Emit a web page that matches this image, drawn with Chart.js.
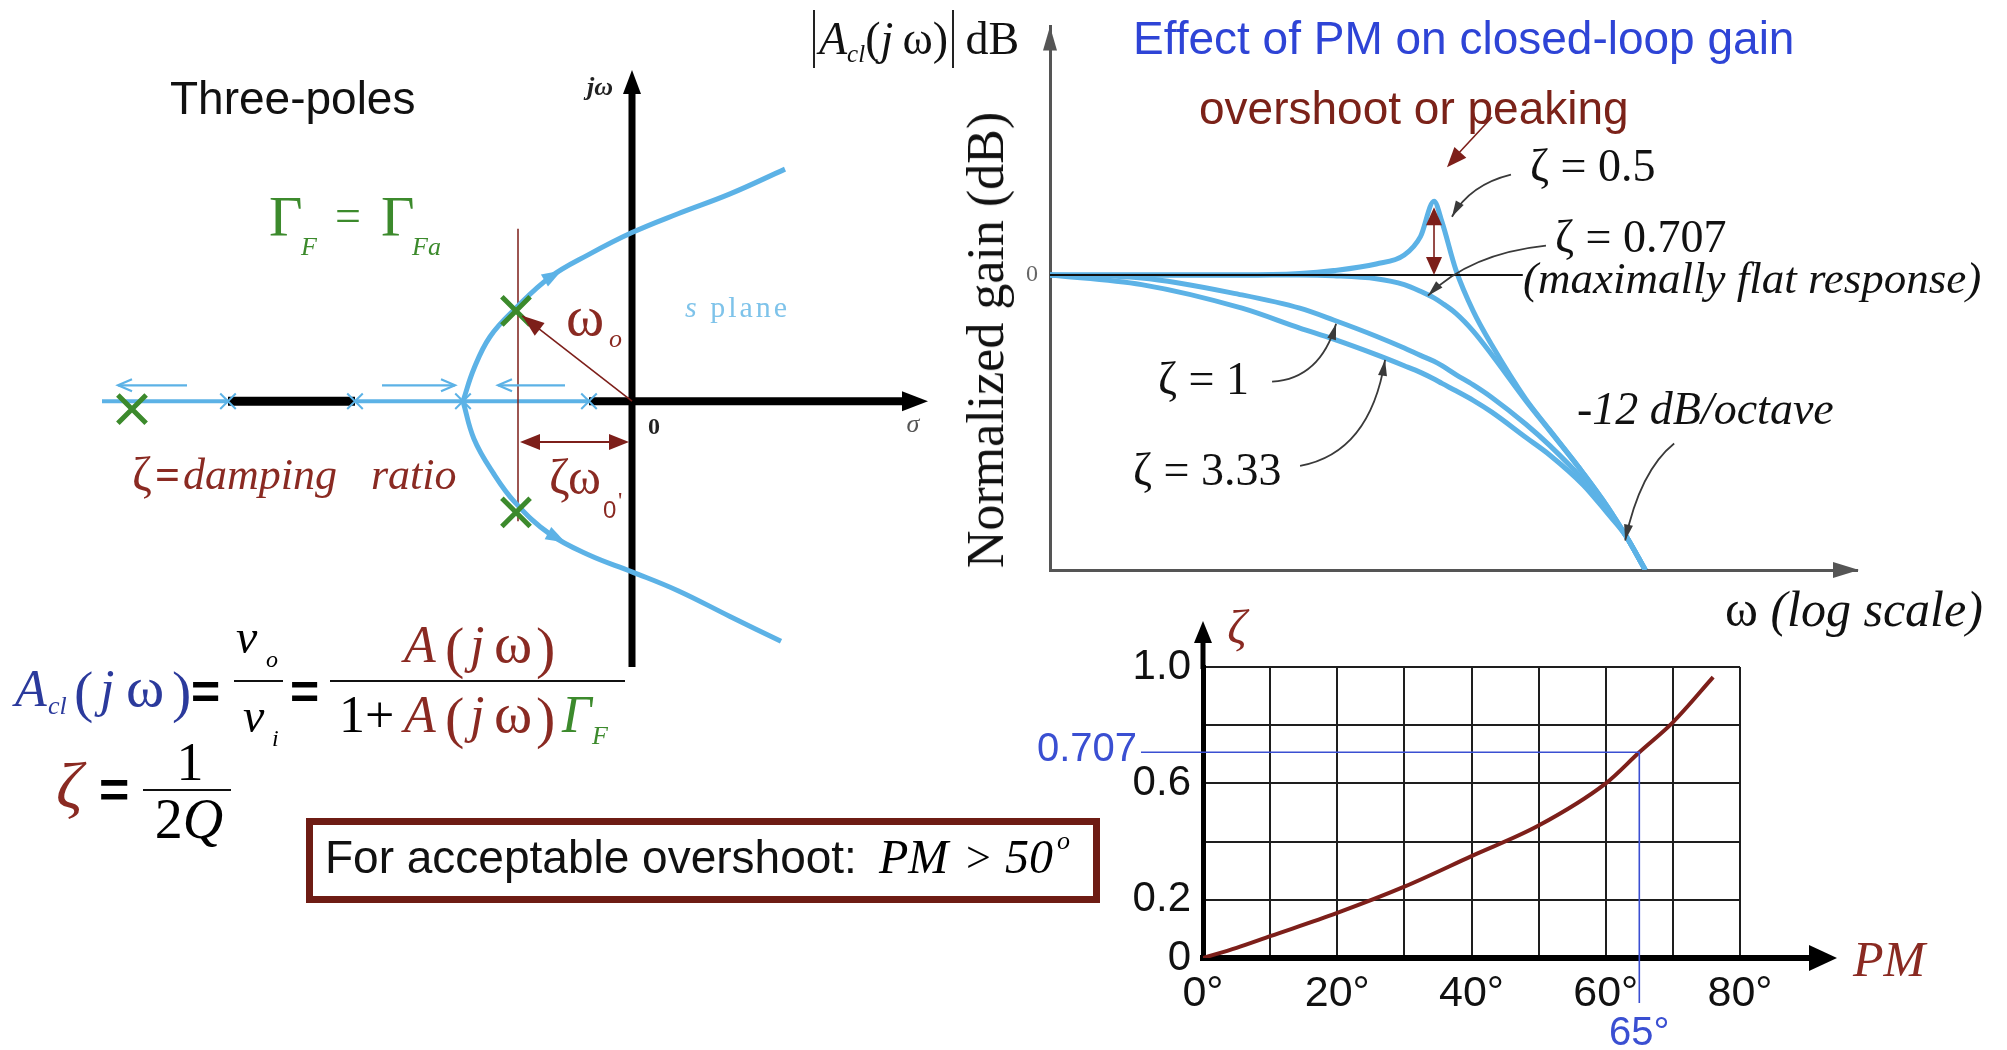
<!DOCTYPE html>
<html>
<head>
<meta charset="utf-8">
<title>Phase margin, damping and closed-loop peaking</title>
<script src="https://cdn.jsdelivr.net/npm/chart.js@4.4.1/dist/chart.umd.min.js"></script>
<style>
  html, body { margin: 0; padding: 0; background: #fff; }
  #stage { position: relative; width: 2007px; height: 1050px; overflow: hidden; background: #fff; }
  #stage canvas { position: absolute; }
  .t { position: absolute; white-space: nowrap; line-height: 1; z-index: 5; }
  .bar { position: absolute; height: 0; border-top: 2px solid #111; z-index: 5; }
</style>
</head>
<body>
<div id="stage">
  <canvas id="sPlane" width="960" height="700" style="left:0;top:0"></canvas>
  <canvas id="gainPlot" width="1007" height="620" style="left:1000px;top:0"></canvas>
  <canvas id="pmPlot" width="1007" height="450" style="left:1000px;top:600px"></canvas>
</div>
<script>
// ---------- s-plane: root locus of the three-pole loop ----------
const upperBranchSigma = [-1.69, -1.58, -1.42, -1.17, -0.82, -0.43, 0, 0.46, 0.98, 1.53];
const upperBranchOmega = [0, 0.33, 0.65, 0.93, 1.25, 1.48, 1.70, 1.89, 2.09, 2.34];
const lowerBranchSigma = [-1.69, -1.58, -1.39, -1.17, -0.82, -0.43, 0, 0.46, 0.98, 1.49];
const lowerBranchOmega = [0, -0.38, -0.72, -1.02, -1.34, -1.55, -1.72, -1.91, -2.17, -2.42];
const poleSigma = [-5.0, -1.16, -1.16];
const poleOmega = [-0.08, 0.91, -1.12];
const breakSigma = [-4.04, -2.77, -1.69, -0.43];
const realLocusSpan = [-5.3, -0.43];
const realSegmentSpan = [-4.04, -2.77];
const dampingSigma = -1.14;              // -ζω0
const dampingLineOmega = [1.74, -1.21];
const realArrowFrom = [-4.45, -2.50, -0.67];
const realArrowTo = [-5.14, -1.77, -1.34];

// ---------- closed-loop gain vs frequency ----------
const omega        = [0.01, 0.03, 0.1, 0.2, 0.3, 0.5, 0.7, 0.85, 1, 1.1, 1.3, 1.6, 2, 3, 4, 6, 8, 10, 12.6];
const gainZeta050  = [0, 0, 0, 0.2, 0.6, 1.5, 2.7, 5.2, 10, 7.2, 0.7, -4.9, -9.5, -16.8, -21.0, -26.9, -31.4, -35.4, -40];
const gainZeta0707 = [0, 0, 0, 0, -0.1, -0.5, -1.3, -2.2, -3.1, -3.8, -5.2, -7.6, -10.8, -17.0, -21.1, -26.9, -31.4, -35.4, -40];
const gainZeta1    = [0, -0.4, -2.7, -4.5, -6.1, -8.3, -9.9, -10.9, -11.7, -12.3, -13.5, -14.9, -16.6, -20.2, -23.1, -27.8, -31.8, -35.4, -40];
const gainZeta333  = [0, -1.3, -4.5, -7.2, -8.7, -10.8, -12.3, -13.2, -14.1, -14.7, -15.7, -17.0, -18.6, -22.0, -24.4, -28.5, -32.3, -35.4, -40];
const zeroDbSpan = [0.01, 2.9];
const peakOmega = 1;
const peakGain = gainZeta050[omega.indexOf(peakOmega)];
const leaderOmega = [1.24, 0.93, 0.309, 0.556, 9.9];
const leaderGain  = [7.9, -2.8, -6.6, -11.5, -36];

// ---------- damping ratio vs phase margin ----------
const phaseMargin  = [0, 5, 10, 20, 30, 40, 50, 60, 65, 70, 76];
const dampingRatio = [0, 0.035, 0.075, 0.155, 0.245, 0.35, 0.455, 0.6, 0.707, 0.81, 0.965];
const pmTickLabels   = ['0°', '', '20°', '', '40°', '', '60°', '', '80°'];
const zetaTickLabels = ['0', '0.2', '', '0.6', '', '1.0'];
const markPM = 65;
const markZeta = 0.707;

// ---------- palette ----------
const LOCUS = '#5cb2e6';
const GREEN = '#3c8a2c';
const DARKRED = '#7d1f1a';
const TEXTRED = '#8a2a22';
const AXIS_GREY = '#555';
const GUIDE = '#3a4fd2';
const SERIF = "'Liberation Serif','Times New Roman',serif";
const SANS = "'Liberation Sans',Arial,sans-serif";

Chart.defaults.font.family = SANS;

const pts = (xs, ys) => xs.map((v, i) => ({ x: v, y: ys[i] }));

function headAt(ctx, tx, ty, angle, len, wid, color) {
  ctx.save();
  ctx.translate(tx, ty);
  ctx.rotate(angle);
  ctx.beginPath();
  ctx.moveTo(0, 0);
  ctx.lineTo(-len, wid / 2);
  ctx.lineTo(-len, -wid / 2);
  ctx.closePath();
  ctx.fillStyle = color;
  ctx.fill();
  ctx.restore();
}
function openHead(ctx, tx, ty, angle, len, spread, color, lw) {
  ctx.save();
  ctx.translate(tx, ty);
  ctx.rotate(angle);
  ctx.beginPath();
  ctx.moveTo(-len, -spread);
  ctx.lineTo(0, 0);
  ctx.lineTo(-len, spread);
  ctx.strokeStyle = color;
  ctx.lineWidth = lw;
  ctx.stroke();
  ctx.restore();
}

// decorations of the s-plane: axis heads, locus direction arrows, ω0 and ζω0
const sPlaneDecor = {
  id: 'sPlaneDecor',
  afterDatasetsDraw(chart) {
    const { ctx, scales: { x, y } } = chart;
    headAt(ctx, x.getPixelForValue(2.96), y.getPixelForValue(0), 0, 26, 20, '#000');
    headAt(ctx, x.getPixelForValue(0), y.getPixelForValue(3.34), -Math.PI / 2, 24, 18, '#000');

    // direction of travel along the real axis
    const ay = y.getPixelForValue(0.16);
    realArrowFrom.forEach((s, i) => {
      const x0 = x.getPixelForValue(s), x1 = x.getPixelForValue(realArrowTo[i]);
      ctx.save();
      ctx.strokeStyle = LOCUS; ctx.lineWidth = 2.2;
      ctx.beginPath(); ctx.moveTo(x0, ay); ctx.lineTo(x1, ay); ctx.stroke();
      ctx.restore();
      openHead(ctx, x1, ay, x1 > x0 ? 0 : Math.PI, 14, 6, LOCUS, 2.2);
    });

    // heads on the complex branches
    const branchHead = (xs, ys, at) => {
      const i = Math.floor(at), t = at - i;
      const sx = xs[i] + (xs[i + 1] - xs[i]) * t, sy = ys[i] + (ys[i + 1] - ys[i]) * t;
      const p0x = x.getPixelForValue(xs[i]), p0y = y.getPixelForValue(ys[i]);
      const p1x = x.getPixelForValue(xs[i + 1]), p1y = y.getPixelForValue(ys[i + 1]);
      headAt(ctx, x.getPixelForValue(sx), y.getPixelForValue(sy), Math.atan2(p1y - p0y, p1x - p0x), 20, 14, LOCUS);
    };
    branchHead(upperBranchSigma, upperBranchOmega, 4.3);
    branchHead(lowerBranchSigma, lowerBranchOmega, 4.4);

    // ω0: vector from the origin to the upper pole
    const ox = x.getPixelForValue(0), oy = y.getPixelForValue(0);
    const px = x.getPixelForValue(poleSigma[1]), py = y.getPixelForValue(poleOmega[1]);
    const ang = Math.atan2(py - oy, px - ox);
    const tx = px - Math.cos(ang) * 8, ty = py - Math.sin(ang) * 8;
    ctx.save();
    ctx.strokeStyle = DARKRED; ctx.lineWidth = 1.6;
    ctx.beginPath(); ctx.moveTo(ox, oy); ctx.lineTo(tx, ty); ctx.stroke();
    ctx.restore();
    headAt(ctx, tx, ty, ang, 22, 16, DARKRED);

    // ζω0: distance of the poles from the jω axis
    const sy = y.getPixelForValue(-0.41);
    const lx = x.getPixelForValue(dampingSigma), rx = x.getPixelForValue(0);
    ctx.save();
    ctx.strokeStyle = DARKRED; ctx.lineWidth = 2;
    ctx.beginPath(); ctx.moveTo(lx + 10, sy); ctx.lineTo(rx - 10, sy); ctx.stroke();
    ctx.restore();
    headAt(ctx, lx + 2, sy, Math.PI, 20, 16, DARKRED);
    headAt(ctx, rx - 3, sy, 0, 20, 16, DARKRED);
  }
};

new Chart(document.getElementById('sPlane'), {
  type: 'scatter',
  data: {
    datasets: [
      { label: 'poles', data: pts(poleSigma, poleOmega), pointStyle: 'crossRot', pointRadius: 20,
        pointBorderWidth: 5, borderColor: GREEN, backgroundColor: GREEN, showLine: false, order: 0 },
      { label: 'upper branch', data: pts(upperBranchSigma, upperBranchOmega), showLine: true,
        borderColor: LOCUS, borderWidth: 5, pointRadius: 0, tension: 0.4, order: 1 },
      { label: 'lower branch', data: pts(lowerBranchSigma, lowerBranchOmega), showLine: true,
        borderColor: LOCUS, borderWidth: 5, pointRadius: 0, tension: 0.4, order: 1 },
      { label: 'break points', data: breakSigma.map(s => ({ x: s, y: 0 })), pointStyle: 'crossRot',
        pointRadius: 11, pointBorderWidth: 2, borderColor: LOCUS, showLine: false, order: 2 },
      { label: 'damping line', data: dampingLineOmega.map(w => ({ x: dampingSigma, y: w })), showLine: true,
        borderColor: DARKRED, borderWidth: 1.5, pointRadius: 0, order: 2 },
      { label: 'real-axis locus', data: realLocusSpan.map(s => ({ x: s, y: 0 })), showLine: true,
        borderColor: LOCUS, borderWidth: 4, pointRadius: 0, order: 4 },
      { label: 'segment', data: realSegmentSpan.map(s => ({ x: s, y: 0 })), showLine: true,
        borderColor: '#000', borderWidth: 9, pointRadius: 0, order: 3 },
      { label: 'sigma axis', data: [{ x: -0.43, y: 0 }, { x: 2.8, y: 0 }], showLine: true,
        borderColor: '#000', borderWidth: 8, pointRadius: 0, order: 3 },
      { label: 'jw axis', data: [{ x: 0, y: -2.68 }, { x: 0, y: 3.2 }], showLine: true,
        borderColor: '#000', borderWidth: 7, pointRadius: 0, order: 3 }
    ]
  },
  options: {
    responsive: false, animation: false, events: [],
    layout: { padding: { left: 100, right: 30, top: 60, bottom: 20 } },
    plugins: { legend: { display: false }, tooltip: { enabled: false } },
    scales: {
      x: { type: 'linear', display: false, min: -5.32, max: 2.98 },
      y: { type: 'linear', display: false, min: -2.76, max: 3.44 }
    }
  },
  plugins: [sPlaneDecor]
});

// ---------- gain plot ----------
const leaderTail = [[59, -42], [118, -50], [-64, 58], [-85, 106], [49, -97]];
const leaderCtrl = [[18, -32], [42, -42], [-16, 55], [-15, 93], [15, -70]];

const gainDecor = {
  id: 'gainDecor',
  afterDatasetsDraw(chart) {
    const { ctx, chartArea: a, scales: { x, y } } = chart;
    headAt(ctx, a.left, a.top, -Math.PI / 2, 24, 14, AXIS_GREY);
    headAt(ctx, a.right + 2, a.bottom, 0, 26, 16, AXIS_GREY);

    // peaking span at the resonance
    const px = x.getPixelForValue(peakOmega);
    const top = y.getPixelForValue(peakGain) + 6, base = y.getPixelForValue(0);
    ctx.save();
    ctx.strokeStyle = DARKRED; ctx.lineWidth = 1.6;
    ctx.beginPath(); ctx.moveTo(px, top + 14); ctx.lineTo(px, base - 14); ctx.stroke();
    ctx.restore();
    headAt(ctx, px, top, -Math.PI / 2, 18, 16, DARKRED);
    headAt(ctx, px, base, Math.PI / 2, 18, 16, DARKRED);

    // "overshoot or peaking" pointer
    const pky = y.getPixelForValue(peakGain);
    const tip = [px + 13, pky - 34], tail = [px + 58, pky - 84];
    ctx.save();
    ctx.strokeStyle = DARKRED; ctx.lineWidth = 1.6;
    ctx.beginPath(); ctx.moveTo(tail[0], tail[1]); ctx.lineTo(tip[0] + 6, tip[1] - 8); ctx.stroke();
    ctx.restore();
    headAt(ctx, tip[0], tip[1], Math.atan2(tip[1] - tail[1], tip[0] - tail[0]), 20, 16, DARKRED);

    // leaders from the ζ labels to their curves
    leaderOmega.forEach((w, i) => {
      const tx = x.getPixelForValue(w), ty = y.getPixelForValue(leaderGain[i]);
      const sx = tx + leaderTail[i][0], sy = ty + leaderTail[i][1];
      const cx = tx + leaderCtrl[i][0], cy = ty + leaderCtrl[i][1];
      ctx.save();
      ctx.strokeStyle = '#3a3a3a'; ctx.lineWidth = 1.8;
      ctx.beginPath(); ctx.moveTo(sx, sy); ctx.quadraticCurveTo(cx, cy, tx, ty); ctx.stroke();
      ctx.restore();
      headAt(ctx, tx, ty, Math.atan2(ty - cy, tx - cx), 16, 9, '#3a3a3a');
    });
  }
};

const gainSeries = (data, order) => ({
  data: pts(omega, data), showLine: true, borderColor: LOCUS, borderWidth: 5,
  pointRadius: 0, cubicInterpolationMode: 'monotone', order
});

new Chart(document.getElementById('gainPlot'), {
  type: 'scatter',
  data: {
    datasets: [
      { label: '0 dB', data: zeroDbSpan.map(w => ({ x: w, y: 0 })), showLine: true,
        borderColor: '#111', borderWidth: 2, pointRadius: 0, order: 0 },
      Object.assign({ label: 'ζ = 0.5' }, gainSeries(gainZeta050, 1)),
      Object.assign({ label: 'ζ = 0.707' }, gainSeries(gainZeta0707, 2)),
      Object.assign({ label: 'ζ = 1' }, gainSeries(gainZeta1, 3)),
      Object.assign({ label: 'ζ = 3.33' }, gainSeries(gainZeta333, 4))
    ]
  },
  options: {
    responsive: false, animation: false, events: [],
    layout: { padding: { left: 10, right: 150, top: 19, bottom: 50 } },
    plugins: { legend: { display: false }, tooltip: { enabled: false } },
    scales: {
      x: {
        type: 'logarithmic', min: 0.01, max: 159.6,
        afterFit: s => { s.height = 0; },
        ticks: { display: false },
        grid: { display: false, drawTicks: false },
        border: { display: true, color: AXIS_GREY, width: 3 }
      },
      y: {
        type: 'linear', min: -40, max: 33.71,
        afterFit: s => { s.width = 40; },
        afterBuildTicks: s => { s.ticks = [{ value: 0 }]; },
        ticks: { color: '#666', padding: 12, font: { family: SERIF, size: 24 }, callback: v => String(v) },
        grid: { display: false, drawTicks: false },
        border: { display: true, color: AXIS_GREY, width: 3 }
      }
    }
  },
  plugins: [gainDecor]
});

// ---------- ζ versus phase margin ----------
const pmDecor = {
  id: 'pmDecor',
  afterDatasetsDraw(chart) {
    const { ctx, chartArea: a, scales: { x, y } } = chart;
    ctx.save();
    ctx.strokeStyle = '#000';
    ctx.lineWidth = 6;
    ctx.beginPath(); ctx.moveTo(a.right - 2, a.bottom); ctx.lineTo(a.right + 75, a.bottom); ctx.stroke();
    ctx.lineWidth = 5;
    ctx.beginPath(); ctx.moveTo(a.left, a.top + 2); ctx.lineTo(a.left, a.top - 28); ctx.stroke();
    ctx.restore();
    headAt(ctx, a.right + 97, a.bottom, 0, 28, 26, '#000');
    headAt(ctx, a.left, a.top - 46, -Math.PI / 2, 22, 18, '#000');

    const gx = x.getPixelForValue(markPM), gy = y.getPixelForValue(markZeta);
    ctx.save();
    ctx.strokeStyle = GUIDE; ctx.lineWidth = 1.6;
    ctx.beginPath(); ctx.moveTo(a.left - 62, gy); ctx.lineTo(gx, gy); ctx.lineTo(gx, a.bottom + 45); ctx.stroke();
    ctx.fillStyle = GUIDE;
    ctx.font = "40px " + SANS;
    ctx.textAlign = 'right'; ctx.textBaseline = 'middle';
    ctx.fillText(String(markZeta), a.left - 66, gy - 2);
    ctx.textAlign = 'center'; ctx.textBaseline = 'top';
    ctx.fillText(markPM + '°', gx, a.bottom + 56);
    ctx.restore();
  }
};

new Chart(document.getElementById('pmPlot'), {
  type: 'scatter',
  data: {
    datasets: [{
      label: 'ζ', data: pts(phaseMargin, dampingRatio), showLine: true,
      borderColor: DARKRED, borderWidth: 4, pointRadius: 0, cubicInterpolationMode: 'monotone'
    }]
  },
  options: {
    responsive: false, animation: false, events: [],
    layout: { padding: { left: 103, right: 267, top: 67, bottom: 12 } },
    plugins: { legend: { display: false }, tooltip: { enabled: false } },
    scales: {
      x: {
        type: 'linear', min: 0, max: 80,
        afterFit: s => { s.height = 80; },
        ticks: { stepSize: 10, autoSkip: false, maxRotation: 0, padding: 10, color: '#111',
                 font: { size: 43 }, callback: (v, i) => pmTickLabels[i] },
        grid: { color: '#1e1e1e', lineWidth: 2, drawTicks: false },
        border: { display: true, color: '#000', width: 6 }
      },
      y: {
        type: 'linear', min: 0, max: 1,
        afterFit: s => { s.width = 100; },
        ticks: { stepSize: 0.2, autoSkip: false, padding: 12, color: '#111',
                 font: { size: 42 }, callback: (v, i) => zetaTickLabels[i] },
        grid: { color: '#1e1e1e', lineWidth: 2, drawTicks: false },
        border: { display: true, color: '#000', width: 5 }
      }
    }
  },
  plugins: [pmDecor]
});

// ---------- text ----------
const stage = document.getElementById('stage');
function txt(html, x, base, o) {
  const d = document.createElement('div');
  const size = o.size;
  const serif = o.font !== 'sans';
  d.className = 't';
  d.style.left = x + 'px';
  d.style.top = (base - (serif ? 0.8375 : 0.8465) * size) + 'px';
  d.style.fontSize = size + 'px';
  d.style.fontFamily = serif ? SERIF : SANS;
  if (o.italic) d.style.fontStyle = 'italic';
  if (o.bold) d.style.fontWeight = 'bold';
  d.style.color = o.color || '#000';
  if (o.anchor === 'center') d.style.transform = 'translateX(-50%)';
  if (o.anchor === 'right') d.style.transform = 'translateX(-100%)';
  if (o.ls) d.style.letterSpacing = o.ls + 'px';
  d.innerHTML = html;
  stage.appendChild(d);
  return d;
}
function bar(x0, x1, y) {
  const d = document.createElement('div');
  d.className = 'bar';
  d.style.left = x0 + 'px'; d.style.width = (x1 - x0) + 'px'; d.style.top = (y - 1) + 'px';
  stage.appendChild(d);
}

// s-plane labels
txt('Three-poles', 170, 114, { size: 46, font: 'sans', color: '#111' });
txt('jω', 600, 96, { size: 26, italic: true, bold: true, anchor: 'center', color: '#222' });
txt('0', 654, 434, { size: 24, bold: true, anchor: 'center', color: '#222' });
txt('σ', 913, 433, { size: 26, italic: true, anchor: 'center', color: '#555' });
txt('ω', 566, 336, { size: 58, color: TEXTRED });
txt('o', 609, 348, { size: 26, italic: true, color: TEXTRED });
txt('<i>s</i>&nbsp;plane', 685, 317, { size: 30, color: '#7ec3ea', ls: 3 });
txt('ζω', 549, 494, { size: 50, color: TEXTRED });
txt('0', 603, 518, { size: 24, font: 'sans', color: TEXTRED });
txt('\'', 618, 508, { size: 24, color: TEXTRED });
txt('ζ', 132, 490, { size: 48, color: TEXTRED });
txt('=', 155, 490, { size: 44, bold: true, color: TEXTRED });
txt('damping', 183, 490, { size: 44, italic: true, color: TEXTRED });
txt('ratio', 371, 490, { size: 44, italic: true, color: TEXTRED });
txt('Γ', 269, 237, { size: 58, color: GREEN });
txt('F', 301, 256, { size: 26, italic: true, color: GREEN });
txt('=', 335, 232, { size: 46, color: GREEN });
txt('Γ', 381, 237, { size: 58, color: GREEN });
txt('Fa', 412, 256, { size: 26, italic: true, color: GREEN });

// closed-loop gain expression
const BLUEF = '#2b3a9c';
txt('A', 15, 707, { size: 52, italic: true, color: BLUEF });
txt('cl', 48, 715, { size: 26, italic: true, color: BLUEF });
txt('(', 74, 712, { size: 58, color: BLUEF });
txt('j', 100, 707, { size: 52, italic: true, color: BLUEF });
txt('ω', 126, 707, { size: 58, color: BLUEF });
txt(')', 172, 712, { size: 58, color: BLUEF });
txt('=', 191, 709, { size: 50, bold: true, font: 'sans' });
txt('v', 236, 653, { size: 48, italic: true });
txt('o', 266, 667, { size: 24, italic: true });
bar(234, 283, 681);
txt('v', 243, 732, { size: 48, italic: true });
txt('i', 272, 746, { size: 24, italic: true });
txt('=', 290, 709, { size: 50, bold: true, font: 'sans' });
bar(330, 625, 681);
txt('A', 404, 663, { size: 52, italic: true, color: TEXTRED });
txt('(', 445, 668, { size: 58, color: TEXTRED });
txt('j', 470, 663, { size: 52, italic: true, color: TEXTRED });
txt('ω', 494, 663, { size: 58, color: TEXTRED });
txt(')', 536, 668, { size: 58, color: TEXTRED });
txt('1+', 339, 733, { size: 52 });
txt('A', 404, 733, { size: 52, italic: true, color: TEXTRED });
txt('(', 445, 738, { size: 58, color: TEXTRED });
txt('j', 470, 733, { size: 52, italic: true, color: TEXTRED });
txt('ω', 494, 733, { size: 58, color: TEXTRED });
txt(')', 536, 738, { size: 58, color: TEXTRED });
txt('Γ', 562, 733, { size: 52, italic: true, color: GREEN });
txt('F', 592, 745, { size: 26, italic: true, color: GREEN });

// ζ = 1/(2Q)
txt('ζ', 56, 808, { size: 66, italic: true, color: TEXTRED });
txt('=', 99, 807, { size: 52, bold: true, font: 'sans' });
txt('1', 190, 780, { size: 54, anchor: 'center' });
bar(143, 231, 790);
txt('2<i>Q</i>', 189, 838, { size: 56, anchor: 'center' });

// design rule box
const box = document.createElement('div');
box.style.cssText = 'position:absolute;left:306px;top:818px;width:794px;height:85px;border:7px solid #6e1c14;box-sizing:border-box;z-index:4;';
stage.appendChild(box);
txt('For acceptable overshoot:', 325, 873, { size: 46, font: 'sans', color: '#111' });
txt('PM', 879, 873, { size: 48, italic: true });
txt('&gt;', 966, 873, { size: 44 });
txt('50', 1005, 873, { size: 48, italic: true });
txt('o', 1057, 850, { size: 26, italic: true });

// gain plot labels
txt('<span style="display:inline-block;border-left:2px solid #222;border-right:2px solid #222;padding:0 4px;line-height:1.25"><i>A</i><span style="font-size:25px;font-style:italic;position:relative;top:8px">cl</span>(<i>j</i>&thinsp;ω)</span> dB',
    813, 49, { size: 46, color: '#111' });
txt('Effect of PM on closed-loop gain', 1133, 54, { size: 46, font: 'sans', color: '#2e44d6' });
txt('overshoot or peaking', 1199, 124, { size: 46, font: 'sans', color: '#7b2219' });
const yTitle = txt('Normalized gain (dB)', 0, 0, { size: 52, color: '#111' });
yTitle.style.left = '986px'; yTitle.style.top = '340px';
yTitle.style.transform = 'translate(-50%,-50%) rotate(-90deg)';
txt('ζ = 0.5', 1530, 182, { size: 46, color: '#111' });
txt('ζ = 0.707', 1555, 253, { size: 46, color: '#111' });
txt('(maximally flat response)', 1523, 294, { size: 45, italic: true, color: '#111' });
txt('ζ = 1', 1158, 395, { size: 46, color: '#111' });
txt('ζ = 3.33', 1133, 486, { size: 46, color: '#111' });
txt('-12 dB/octave', 1577, 425, { size: 46, italic: true, color: '#111' });
txt('ω <i>(log scale)</i>', 1725, 626, { size: 50, color: '#111' });

// ζ–PM plot labels
txt('ζ', 1237, 643, { size: 48, italic: true, anchor: 'center', color: TEXTRED });
txt('PM', 1853, 976, { size: 50, italic: true, color: TEXTRED });
</script>
</body>
</html>
